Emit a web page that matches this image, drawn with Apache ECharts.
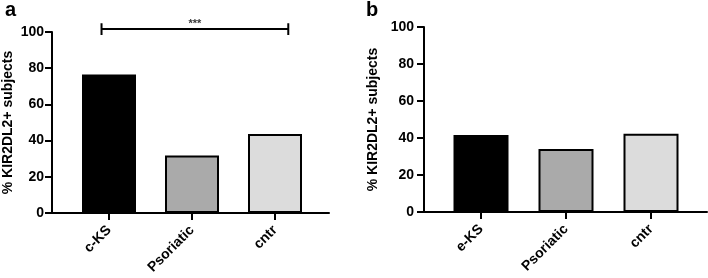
<!DOCTYPE html>
<html>
<head>
<meta charset="utf-8">
<script src="https://cdn.jsdelivr.net/npm/echarts@6/dist/echarts.min.js"></script>
<style>
  html, body {margin: 0; padding: 0; background: #fff;}
  #chart {width: 708px; height: 278px;}
</style>
</head>
<body>
<div id="chart"></div>
<script>
// panel a
const catsA = ['c-KS', 'Psoriatic', 'cntr'];
const valsA = [76.5, 31.7, 43.6];
// panel b
const catsB = ['e-KS', 'Psoriatic', 'cntr'];
const valsB = [41.6, 34.1, 42.3];
const yTicks = [0, 20, 40, 60, 80, 100];
// significance bracket on panel a (category units, y value)
const bracketX = [-0.09, 2.16];
const bracketY = 101.6;
const bracketText = '***';

const barColors = ['#000000', '#aaaaaa', '#dcdcdc'];
const font = 'Liberation Sans';

// pixel layout of each panel
const panels = [
  {cats: catsA, vals: valsA, letter: 'a', letterX: 5, axisLeft: 52, axisRight: 329, bandLeft: 67.5, step: 83,
    top: 32, bottom: 213, barWidth: 54, nameGap: 37, labelMargin: 8},
  {cats: catsB, vals: valsB, letter: 'b', letterX: 366, axisLeft: 424, axisRight: 707, bandLeft: 438.5, step: 85,
    top: 27, bottom: 212, barWidth: 55, nameGap: 44, labelMargin: 10}
];

const grid = [], xAxis = [], yAxis = [], series = [], graphic = [];

panels.forEach((p, i) => {
  const n = p.cats.length;
  const bandRight = p.bandLeft + p.step * n;
  const h = p.bottom - p.top;
  // bars grid
  grid.push({left: p.bandLeft, top: p.top, width: bandRight - p.bandLeft, height: h, outerBoundsMode: 'none'});
  // axis grid
  grid.push({left: p.axisLeft, top: p.top, width: p.axisRight - p.axisLeft, height: h, outerBoundsMode: 'none'});
  const gBar = i * 2, gAxis = i * 2 + 1;

  xAxis.push({
    gridIndex: gBar, type: 'category', data: p.cats,
    axisLine: {show: false},
    axisTick: {show: true, alignWithLabel: true, length: 7, lineStyle: {color: '#000', width: 2}},
    axisLabel: {rotate: 45, margin: 15, color: '#000', fontWeight: 'bold', fontSize: 14, fontFamily: font, interval: 0}
  });
  xAxis.push({
    gridIndex: gAxis, type: 'value',
    min: -0.5 - (p.bandLeft - p.axisLeft) / p.step,
    max: n - 0.5 + (p.axisRight - bandRight) / p.step,
    axisLine: {show: true, onZero: false, lineStyle: {color: '#000', width: 2}},
    axisTick: {show: false}, axisLabel: {show: false}, splitLine: {show: false}
  });
  yAxis.push({
    gridIndex: gBar, type: 'value', min: 0, max: 100, show: false, splitLine: {show: false}
  });
  yAxis.push({
    gridIndex: gAxis, type: 'value', min: 0, max: 100, interval: 20,
    name: '% KIR2DL2+ subjects', nameLocation: 'middle', nameGap: p.nameGap,
    nameTextStyle: {color: '#000', fontWeight: 'bold', fontSize: 14, fontFamily: font},
    axisLine: {show: true, onZero: false, lineStyle: {color: '#000', width: 2}},
    axisTick: {show: true, length: 7, lineStyle: {color: '#000', width: 2}},
    axisLabel: {color: '#000', fontWeight: 'bold', fontSize: 14, fontFamily: font, margin: p.labelMargin,
      customValues: yTicks},
    splitLine: {show: false}
  });

  series.push({
    type: 'bar', xAxisIndex: gBar, yAxisIndex: gBar, barWidth: p.barWidth,
    data: p.vals.map((v, k) => ({value: v, itemStyle: {color: barColors[k]}})),
    itemStyle: {borderColor: '#000', borderWidth: 2},
    emphasis: {disabled: true}
  });

  graphic.push({type: 'text', left: p.letterX, top: 0,
    style: {text: p.letter, font: 'bold 20px ' + font, fill: '#000'}});
});

// significance bracket drawn on panel a axis grid
const cap = 3.2;
series.push({
  type: 'line', xAxisIndex: 1, yAxisIndex: 1, clip: false, symbol: 'none', silent: true,
  lineStyle: {color: '#000', width: 2},
  data: [
    [bracketX[0], bracketY + cap], [bracketX[0], bracketY - cap], [bracketX[0], bracketY],
    [bracketX[1], bracketY], [bracketX[1], bracketY + cap], [bracketX[1], bracketY - cap]
  ]
});
series.push({
  type: 'scatter', xAxisIndex: 1, yAxisIndex: 1, clip: false, symbolSize: 0, silent: true,
  data: [[(bracketX[0] + bracketX[1]) / 2, bracketY]],
  label: {show: true, formatter: bracketText, position: 'top', distance: 0,
    color: '#000', fontSize: 11, fontWeight: 'bold', fontFamily: font}
});

const chart = echarts.init(document.getElementById('chart'));
chart.setOption({
  animation: false,
  backgroundColor: '#fff',
  grid: grid,
  xAxis: xAxis,
  yAxis: yAxis,
  series: series,
  graphic: graphic
});
</script>
</body>
</html>
